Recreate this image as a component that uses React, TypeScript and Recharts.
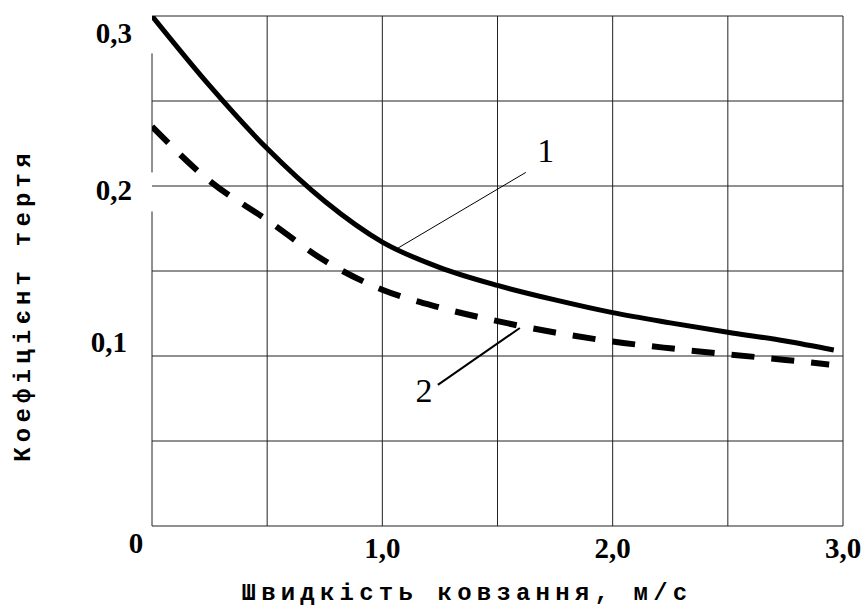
import React from "react";
import {
  LineChart,
  Line,
  XAxis,
  YAxis,
  CartesianGrid,
  ReferenceLine,
  ReferenceDot,
} from "recharts";

// швидкість ковзання, м/с
const SPEED_1 = [0, 0.25, 0.5, 0.75, 1.0, 1.25, 1.5, 1.75, 2.0, 2.25, 2.5, 2.75, 2.96];
const SPEED_2 = [0, 0.25, 0.5, 0.75, 1.0, 1.25, 1.5, 1.75, 2.0, 2.25, 2.5, 2.75, 2.94];

// коефіцієнт тертя
const FRICTION_1 = [0.3, 0.259, 0.222, 0.191, 0.167, 0.152, 0.1415, 0.133, 0.1255, 0.1195, 0.114, 0.1088, 0.1035];
const FRICTION_2 = [0.235, 0.203, 0.18, 0.156, 0.139, 0.1285, 0.1205, 0.1138, 0.1085, 0.1045, 0.101, 0.0977, 0.095];

const X_TICKS = [0, 0.5, 1.0, 1.5, 2.0, 2.5, 3.0];
const X_LABELS = [0, 1, 2, 3];
const Y_TICKS = [0, 0.05, 0.1, 0.15, 0.2, 0.25, 0.3];
const Y_LABELS = [0.1, 0.2, 0.3];

const X_TITLE = "Швидкість ковзання, м/с";
const Y_TITLE = "Коефіцієнт тертя";

const series1 = SPEED_1.map((v, i) => ({ v, f: FRICTION_1[i] }));
const series2 = SPEED_2.map((v, i) => ({ v, f: FRICTION_2[i] }));

const tickFont = {
  fontFamily: "'Liberation Serif', 'Times New Roman', serif",
  fontWeight: 700,
  fontSize: 29,
  fill: "#000",
};

const titleFont = {
  fontFamily: "'Liberation Mono', 'Courier New', monospace",
  fontWeight: 700,
  fontSize: 24,
  letterSpacing: 5.2,
  fill: "#000",
};

const fmt = (v: number) => v.toFixed(1).replace(".", ",");
const r2 = (v: number) => Math.round(v * 100) / 100;

// small nudges so the labels sit where the original drawing puts them
const yNudge: Record<string, [number, number]> = {
  "0.3": [-20, 27],
  "0.2": [-20, 14],
  "0.1": [-25, -4],
};

const XTick = (props: any) => {
  const { x, y, payload } = props;
  const v = r2(payload.value);
  if (!X_LABELS.includes(v)) return null;
  if (v === 0) {
    return (
      <text x={x - 16} y={y + 27} textAnchor="middle" {...tickFont}>
        0
      </text>
    );
  }
  return (
    <text x={x} y={y + 32} textAnchor="middle" {...tickFont}>
      {fmt(v)}
    </text>
  );
};

const YTick = (props: any) => {
  const { x, y, payload } = props;
  const v = r2(payload.value);
  if (!Y_LABELS.includes(v)) return null;
  const [dx, dy] = yNudge[String(v)] || [-20, 8];
  return (
    <text x={x + dx} y={y + dy} textAnchor="end" {...tickFont}>
      {fmt(v)}
    </text>
  );
};

const NumberMark = ({ cx, cy, text }: any) => (
  <text
    x={cx}
    y={cy}
    textAnchor="middle"
    fontFamily="'Liberation Serif', 'Times New Roman', serif"
    fontSize={34}
    fill="#000"
  >
    {text}
  </text>
);

export default function App() {
  return (
    <div style={{ width: 861, height: 608, background: "#fff" }}>
      <style>{`body{margin:0}`}</style>
      <LineChart
        width={861}
        height={608}
        margin={{ top: 16, right: 18, bottom: 42, left: 92 }}
      >
        <CartesianGrid vertical={false} stroke="#222" strokeWidth={1} />
        {X_TICKS.filter((t) => t > 0).map((t) => (
          <ReferenceLine key={t} x={t} stroke="#222" strokeWidth={1} />
        ))}
        {/* left axis, broken near the labels */}
        <ReferenceLine segment={[{ x: 0, y: 0 }, { x: 0, y: 0.185 }]} stroke="#222" />
        <ReferenceLine segment={[{ x: 0, y: 0.208 }, { x: 0, y: 0.278 }]} stroke="#222" />
        <XAxis
          type="number"
          dataKey="v"
          domain={[0, 3]}
          ticks={X_TICKS}
          axisLine={false}
          tickLine={false}
          tickSize={0}
          tickMargin={0}
          height={40}
          interval={0}
          tick={<XTick />}
          allowDataOverflow
          label={{
            content: () => (
              <text x={467} y={600} textAnchor="middle" {...titleFont}>
                {X_TITLE}
              </text>
            ),
          }}
        />
        <YAxis
          type="number"
          domain={[0, 0.3]}
          ticks={Y_TICKS}
          axisLine={false}
          tickLine={false}
          tickSize={0}
          tickMargin={0}
          width={60}
          interval={0}
          tick={<YTick />}
          allowDataOverflow
          label={{
            content: () => (
              <text
                x={30}
                y={305}
                textAnchor="middle"
                transform="rotate(-90 30 305)"
                {...titleFont}
              >
                {Y_TITLE}
              </text>
            ),
          }}
        />
        <Line
          data={series1}
          dataKey="f"
          type="monotone"
          stroke="#000"
          strokeWidth={5}
          dot={false}
          isAnimationActive={false}
        />
        <Line
          data={series2}
          dataKey="f"
          type="monotone"
          stroke="#000"
          strokeWidth={6}
          strokeDasharray="23 17"
          dot={false}
          isAnimationActive={false}
        />
        {/* leader lines and curve numbers */}
        <ReferenceLine segment={[{ x: 1.068, y: 0.1635 }, { x: 1.623, y: 0.208 }]} stroke="#000" strokeWidth={1} />
        <ReferenceLine segment={[{ x: 1.241, y: 0.083 }, { x: 1.597, y: 0.1165 }]} stroke="#000" strokeWidth={2} />
        <ReferenceDot x={1.71} y={0.214} r={0} shape={(p: any) => <NumberMark {...p} text="1" />} />
        <ReferenceDot x={1.181} y={0.073} r={0} shape={(p: any) => <NumberMark {...p} text="2" />} />
      </LineChart>
    </div>
  );
}
